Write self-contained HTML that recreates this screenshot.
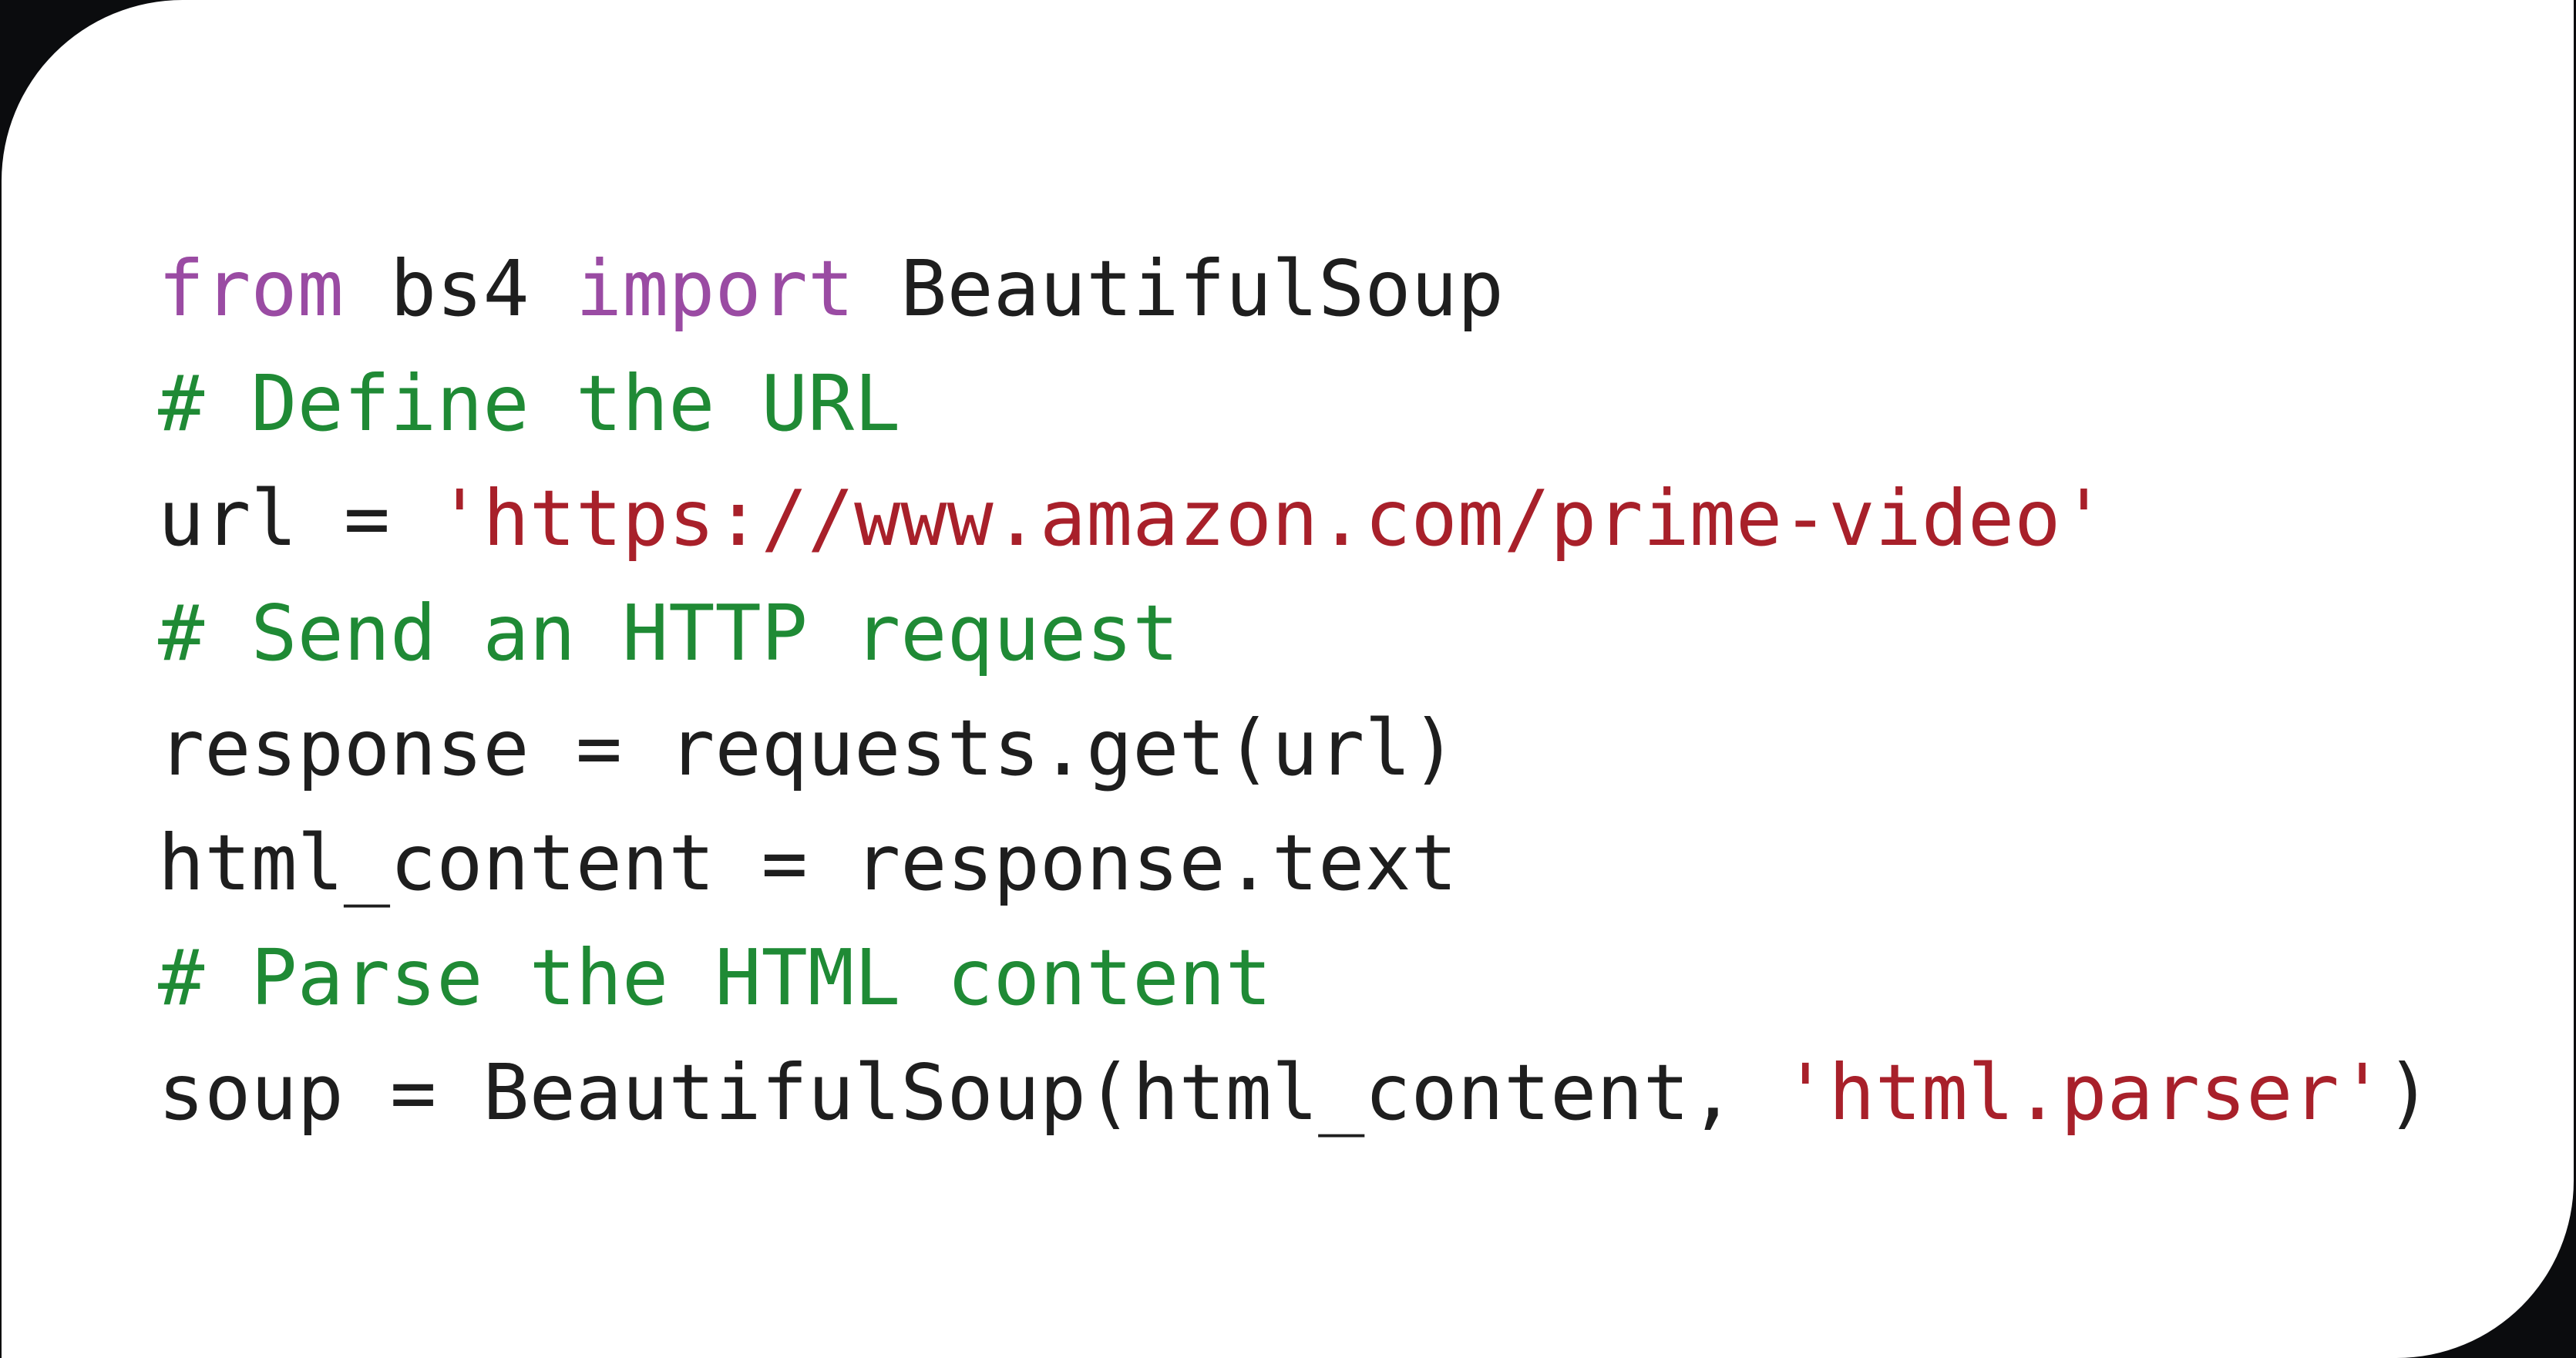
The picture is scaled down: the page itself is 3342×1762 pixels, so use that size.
<!DOCTYPE html>
<html><head><meta charset="utf-8"><style>
html,body{margin:0;padding:0;background:#0b0c0e;width:3342px;height:1762px;overflow:hidden;}
.card{position:absolute;left:2px;top:0;width:3337px;height:1762px;background:#fff;border-radius:235px 0 230px 0;}
pre{position:absolute;left:205px;top:300px;margin:0;font-family:"DejaVu Sans Mono","Liberation Mono",monospace;font-size:100px;line-height:149px;color:#1e1e1e;}
.k{color:#9a4ba3}.c{color:#1f8a35}.s{color:#a8202a}
</style></head><body>
<div class="card"></div>
<pre><span class="k">from</span> bs4 <span class="k">import</span> BeautifulSoup
<span class="c"># Define the URL</span>
url = <span class="s">'https://www.amazon.com/prime-video'</span>
<span class="c"># Send an HTTP request</span>
response = requests.get(url)
html_content = response.text
<span class="c"># Parse the HTML content</span>
soup = BeautifulSoup(html_content, <span class="s">'html.parser'</span>)</pre>
</body></html>
